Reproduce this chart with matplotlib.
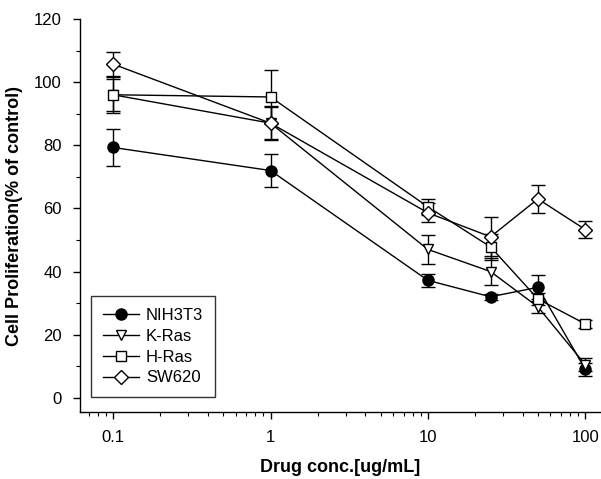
import matplotlib
matplotlib.use("Agg")
import matplotlib.pyplot as plt
from matplotlib.lines import Line2D
from matplotlib.ticker import FixedLocator, MultipleLocator, LogLocator, NullFormatter

plt.rcParams['font.family'] = ['Liberation Sans', 'DejaVu Sans']

conc = [0.1, 1, 10, 25, 50, 100]
series_names = ["NIH3T3", "K-Ras", "H-Ras", "SW620"]
nih3t3 = [79.3, 72.0, 37.2, 32.0, 35.0, 9.0]
nih3t3_err = [5.8, 5.2, 2.0, 1.0, 3.8, 2.0]
kras = [96.0, 87.0, 47.0, 40.0, 28.8, 10.5]
kras_err = [5.0, 5.0, 4.5, 4.2, 2.0, 2.0]
hras = [96.0, 95.3, 60.5, 47.8, 31.3, 23.4]
hras_err = [5.7, 8.5, 2.5, 4.0, 2.0, 1.2]
sw620 = [105.7, 87.0, 58.6, 51.0, 63.0, 53.3]
sw620_err = [3.8, 5.4, 3.0, 6.2, 4.5, 2.8]
yticks = [0, 20, 40, 60, 80, 100, 120]
xticks = [0.1, 1, 10, 100]
xticklabels = ["0.1", "1", "10", "100"]

fig = plt.figure(figsize=(6.01, 4.79), dpi=100)
ax = fig.add_axes([80/601, 1-412/479, 520/601, 393/479])

styles = [
    dict(marker='o', mfc='black', mec='black'),
    dict(marker='v', mfc='white', mec='black'),
    dict(marker='s', mfc='white', mec='black'),
    dict(marker='D', mfc='white', mec='black'),
]
sizes = [8, 7.5, 7.5, 7]
data = [(nih3t3, nih3t3_err), (kras, kras_err), (hras, hras_err), (sw620, sw620_err)]
handles = []
for name, (vals, errs), st, ms in zip(series_names, data, styles, sizes):
    ax.errorbar(conc, vals, yerr=errs, color='black', lw=1.0, elinewidth=1.0,
                capsize=5, capthick=1.0, ms=ms, mew=1.0, **st)
    handles.append(Line2D([], [], color='black', lw=1.0, ms=ms, mew=1.0, label=name, **st))

ax.set_xscale('log')
ax.set_xlim(0.0616, 124)
ax.set_ylim(-4.5, 120)
ax.xaxis.set_major_locator(FixedLocator(xticks))
ax.set_xticklabels(xticklabels)
ax.xaxis.set_minor_locator(LogLocator(base=10, subs=range(2, 10)))
ax.xaxis.set_minor_formatter(NullFormatter())
ax.set_yticks(yticks)
ax.yaxis.set_minor_locator(MultipleLocator(10))

for s in ['top', 'right']:
    ax.spines[s].set_visible(False)
for s in ['left', 'bottom']:
    ax.spines[s].set_linewidth(1.0)

ax.tick_params(which='major', direction='out', length=5, width=1.0, labelsize=12, pad=8)
ax.tick_params(which='minor', direction='out', length=3, width=0.8)

ax.set_xlabel("Drug conc.[ug/mL]", fontsize=13, fontweight='bold', labelpad=10)
ax.set_ylabel("Cell Proliferation(% of control)", fontsize=13, fontweight='bold', labelpad=8)

leg = ax.legend(handles=handles, loc='lower left', bbox_to_anchor=(0.021, 0.038), frameon=True,
                fancybox=False, edgecolor='black', fontsize=12, handlelength=2.2,
                borderpad=0.7, labelspacing=0.35, handletextpad=0.4, borderaxespad=0)
leg.get_frame().set_linewidth(1.0)

fig.savefig("out.png", dpi=100)
